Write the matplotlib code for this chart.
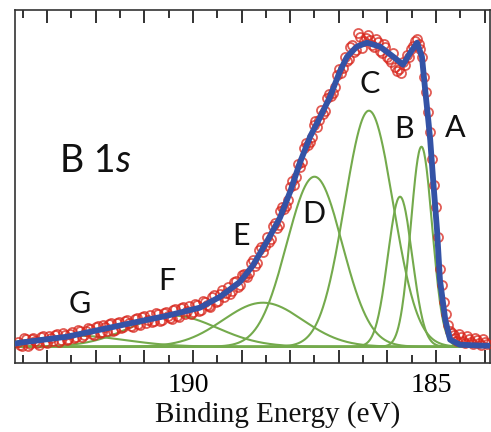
import numpy as np
import matplotlib
matplotlib.use("Agg")
import matplotlib.pyplot as plt
from matplotlib.ticker import MultipleLocator
from matplotlib.transforms import ScaledTranslation

# ---- data ----
# fitted envelope (binding energy eV, intensity a.u.)
env_x = [193.66, 193.56, 192.59, 191.91, 191.23, 190.53, 189.86, 189.44, 189.03,
         188.77, 188.48, 188.21, 188.00, 187.80, 187.59, 187.39, 187.18, 186.98,
         186.83, 186.63, 186.42, 186.15, 185.88, 185.68, 185.53, 185.39, 185.29,
         185.23, 185.16, 185.12, 185.06, 184.98, 184.92, 184.81, 184.71, 184.51,
         184.03, 183.89]
env_y = [0.03, 0.04, 0.10, 0.17, 0.24, 0.31, 0.39, 0.50, 0.65,
         0.81, 1.05, 1.29, 1.55, 1.84, 2.10, 2.29, 2.50, 2.75,
         2.90, 3.00, 3.04, 3.00, 2.90, 2.82, 2.94, 3.04, 2.90,
         2.60, 2.27, 2.07, 1.67, 1.17, 0.67, 0.27, 0.07, 0.02,
         0.01, 0.01]

# measured points (first scan)
data_x = [193.60, 193.52, 193.44, 193.36, 193.28, 193.20, 193.12, 193.04, 192.96, 192.88,
          192.80, 192.72, 192.64, 192.56, 192.48, 192.40, 192.32, 192.24, 192.16, 192.08,
          192.00, 191.92, 191.84, 191.76, 191.68, 191.60, 191.52, 191.44, 191.36, 191.28,
          191.20, 191.12, 191.04, 190.96, 190.88, 190.80, 190.72, 190.64, 190.56, 190.48,
          190.40, 190.32, 190.24, 190.16, 190.08, 190.00, 189.92, 189.84, 189.76, 189.68,
          189.60, 189.52, 189.44, 189.36, 189.28, 189.20, 189.12, 189.04, 188.96, 188.88,
          188.80, 188.72, 188.64, 188.56, 188.48, 188.40, 188.32, 188.24, 188.16, 188.08,
          188.00, 187.92, 187.84, 187.76, 187.68, 187.60, 187.52, 187.44, 187.36, 187.28,
          187.20, 187.12, 187.04, 186.96, 186.88, 186.80, 186.72, 186.64, 186.56, 186.48,
          186.40, 186.32, 186.24, 186.16, 186.08, 186.00, 185.92, 185.84, 185.76, 185.68,
          185.60, 185.52, 185.44, 185.36, 185.28, 185.24, 185.20, 185.16, 185.12, 185.08,
          185.04, 185.00, 184.96, 184.92, 184.88, 184.84, 184.80, 184.76, 184.72, 184.64,
          184.56, 184.48, 184.40, 184.32, 184.24, 184.16, 184.08, 184.00]
data_y = [0.05, 0.01, 0.08, 0.03, 0.09, 0.04, 0.10, 0.05, 0.11, 0.06,
          0.13, 0.07, 0.12, 0.08, 0.15, 0.10, 0.16, 0.12, 0.19, 0.13,
          0.20, 0.14, 0.22, 0.16, 0.24, 0.17, 0.25, 0.20, 0.27, 0.21,
          0.28, 0.23, 0.30, 0.24, 0.32, 0.26, 0.33, 0.27, 0.35, 0.29,
          0.37, 0.31, 0.39, 0.33, 0.41, 0.35, 0.42, 0.37, 0.45, 0.41,
          0.50, 0.45, 0.53, 0.50, 0.60, 0.56, 0.66, 0.62, 0.73, 0.70,
          0.84, 0.81, 0.97, 0.95, 1.10, 1.08, 1.24, 1.22, 1.40, 1.41,
          1.60, 1.62, 1.83, 1.85, 2.04, 2.05, 2.22, 2.20, 2.37, 2.36,
          2.53, 2.54, 2.72, 2.74, 2.90, 2.88, 3.02, 2.97, 3.10, 3.06,
          3.12, 3.02, 3.08, 2.96, 3.03, 2.90, 2.85, 2.80, 2.78, 2.85,
          2.92, 2.98, 3.06, 3.03, 2.90, 2.70, 2.55, 2.35, 2.15, 1.88,
          1.62, 1.40, 1.10, 0.78, 0.62, 0.45, 0.33, 0.22, 0.16, 0.12,
          0.06, 0.10, 0.04, 0.08, 0.03, 0.07, 0.02, 0.05]

# measured points (interleaved scan)
data2_x = [193.56, 193.48, 193.40, 193.32, 193.24, 193.16, 193.08, 193.00, 192.92, 192.84,
           192.76, 192.68, 192.60, 192.52, 192.44, 192.36, 192.28, 192.20, 192.12, 192.04,
           191.96, 191.88, 191.80, 191.72, 191.64, 191.56, 191.48, 191.40, 191.32, 191.24,
           191.16, 191.08, 191.00, 190.92, 190.84, 190.76, 190.68, 190.60, 190.52, 190.44,
           190.36, 190.28, 190.20, 190.12, 190.04, 189.96, 189.88, 189.80, 189.72, 189.64,
           189.56, 189.48, 189.40, 189.32, 189.24, 189.16, 189.08, 189.00, 188.92, 188.84,
           188.76, 188.68, 188.60, 188.52, 188.44, 188.36, 188.28, 188.20, 188.12, 188.04,
           187.96, 187.88, 187.80, 187.72, 187.64, 187.56, 187.48, 187.40, 187.32, 187.24,
           187.16, 187.08, 187.00, 186.92, 186.84, 186.76, 186.68, 186.60, 186.52, 186.44,
           186.36, 186.28, 186.20, 186.12, 186.04, 185.96, 185.88, 185.80, 185.72, 185.64,
           185.56, 185.48, 185.40, 185.32,
           184.68, 184.60, 184.52, 184.44, 184.36, 184.28, 184.20, 184.12, 184.04, 183.96]
data2_y = [0.02, 0.09, 0.01, 0.08, 0.06, 0.02, 0.11, 0.04, 0.09, 0.12,
           0.05, 0.14, 0.07, 0.13, 0.09, 0.17, 0.10, 0.16, 0.18, 0.12,
           0.21, 0.15, 0.20, 0.23, 0.16, 0.24, 0.19, 0.26, 0.24, 0.20,
           0.29, 0.22, 0.31, 0.27, 0.25, 0.34, 0.26, 0.34, 0.31, 0.28,
           0.38, 0.30, 0.40, 0.36, 0.33, 0.43, 0.36, 0.46, 0.42, 0.40,
           0.52, 0.46, 0.57, 0.54, 0.53, 0.65, 0.60, 0.72, 0.71, 0.74,
           0.87, 0.84, 1.00, 1.01, 1.05, 1.21, 1.19, 1.36, 1.38, 1.47,
           1.66, 1.70, 1.80, 1.99, 2.02, 2.10, 2.26, 2.27, 2.33, 2.49,
           2.51, 2.60, 2.78, 2.79, 2.86, 3.00, 2.95, 3.14, 2.99, 3.09,
           3.07, 3.00, 3.05, 2.94, 3.00, 2.88, 2.94, 2.76, 2.74, 2.82,
           2.90, 3.01, 3.08, 2.98,
           0.14, 0.09, 0.13, 0.06, 0.11, 0.05, 0.09, 0.04, 0.08, 0.03]

# fitted components: centre (eV), height, sigma (eV)
peak_names = ["A", "B", "C", "D", "E", "F", "G"]
peak_center = [185.30, 185.74, 186.38, 187.50, 188.56, 190.40, 192.40]
peak_height = [2.00, 1.50, 2.36, 1.70, 0.44, 0.31, 0.11]
peak_sigma = [0.22, 0.25, 0.50, 0.57, 0.82, 0.90, 1.00]

# label anchor positions (eV, intensity baseline)
label_pos = {"A": (184.61, 2.10), "B": (185.66, 2.09), "C": (186.36, 2.54),
             "D": (187.51, 1.24), "E": (189.01, 1.02), "F": (190.53, 0.57),
             "G": (192.32, 0.34)}

tick_vals = [190, 185]
tick_text = ["190", "185"]

# ---- figure ----
fig = plt.figure(figsize=(4.91, 4.32), dpi=100)
ax = fig.add_axes([15/491, (432-363)/432, 475/491, 353/432])

green = "#74aa4c"
xs = np.linspace(183.85, 193.7, 800)
for c, h, s in zip(peak_center, peak_height, peak_sigma):
    ax.plot(xs, h*np.exp(-0.5*((xs-c)/s)**2), color=green, lw=1.5, zorder=2)

for dx, dy in ((data_x, data_y), (data2_x, data2_y)):
    ax.plot(dx, dy, 'o', mfc='none', mec='#d8261c', mew=1.3, ms=6.5,
            alpha=0.75, zorder=3)
ax.plot(env_x, env_y, color='#3453a6', lw=4.2, zorder=4, solid_capstyle='round',
        solid_joinstyle='round')

ax.set_xlim(193.66, 183.89)
ax.set_ylim(-0.163, 3.367)

for n in peak_names:
    px, py = label_pos[n]
    ax.text(px, py, n, family="Lato", fontsize=22, color="#111111",
            ha="center", va="baseline", zorder=5)
ax.text(191.60, 1.75, "B 1", family="Lato", fontsize=27, color="#111111",
        ha="right", va="baseline")
ax.text(191.60, 1.75, "s", family="Lato", style="italic", fontsize=27,
        color="#111111", ha="left", va="baseline")

def fmt(v, p):
    r = int(round(v))
    if abs(v - r) < 1e-6 and r in tick_vals:
        return tick_text[tick_vals.index(r)]
    return ""

ax.xaxis.set_major_locator(MultipleLocator(1))
ax.xaxis.set_minor_locator(MultipleLocator(0.5))
ax.xaxis.set_major_formatter(plt.FuncFormatter(fmt))
ax.set_yticks([])
ax.tick_params(axis='x', which='major', direction='in', length=9.5, width=1.3,
               top=True, pad=7, labelsize=20, color='#222222')
ax.tick_params(axis='x', which='minor', direction='in', length=5.5, width=1.3,
               top=True, color='#222222')
for lab in ax.get_xticklabels():
    lab.set_family("Liberation Serif")
    lab.set_transform(lab.get_transform() + ScaledTranslation(-5/100, 0, fig.dpi_scale_trans))
for sp in ax.spines.values():
    sp.set_color('#333333')
    sp.set_linewidth(1.2)

ax.set_xlabel("Binding Energy (eV)", family="Liberation Serif", fontsize=21,
              color="#111111", va="center")
ax.xaxis.set_label_coords(0.552, -0.145)

fig.savefig("out.png", dpi=100)
